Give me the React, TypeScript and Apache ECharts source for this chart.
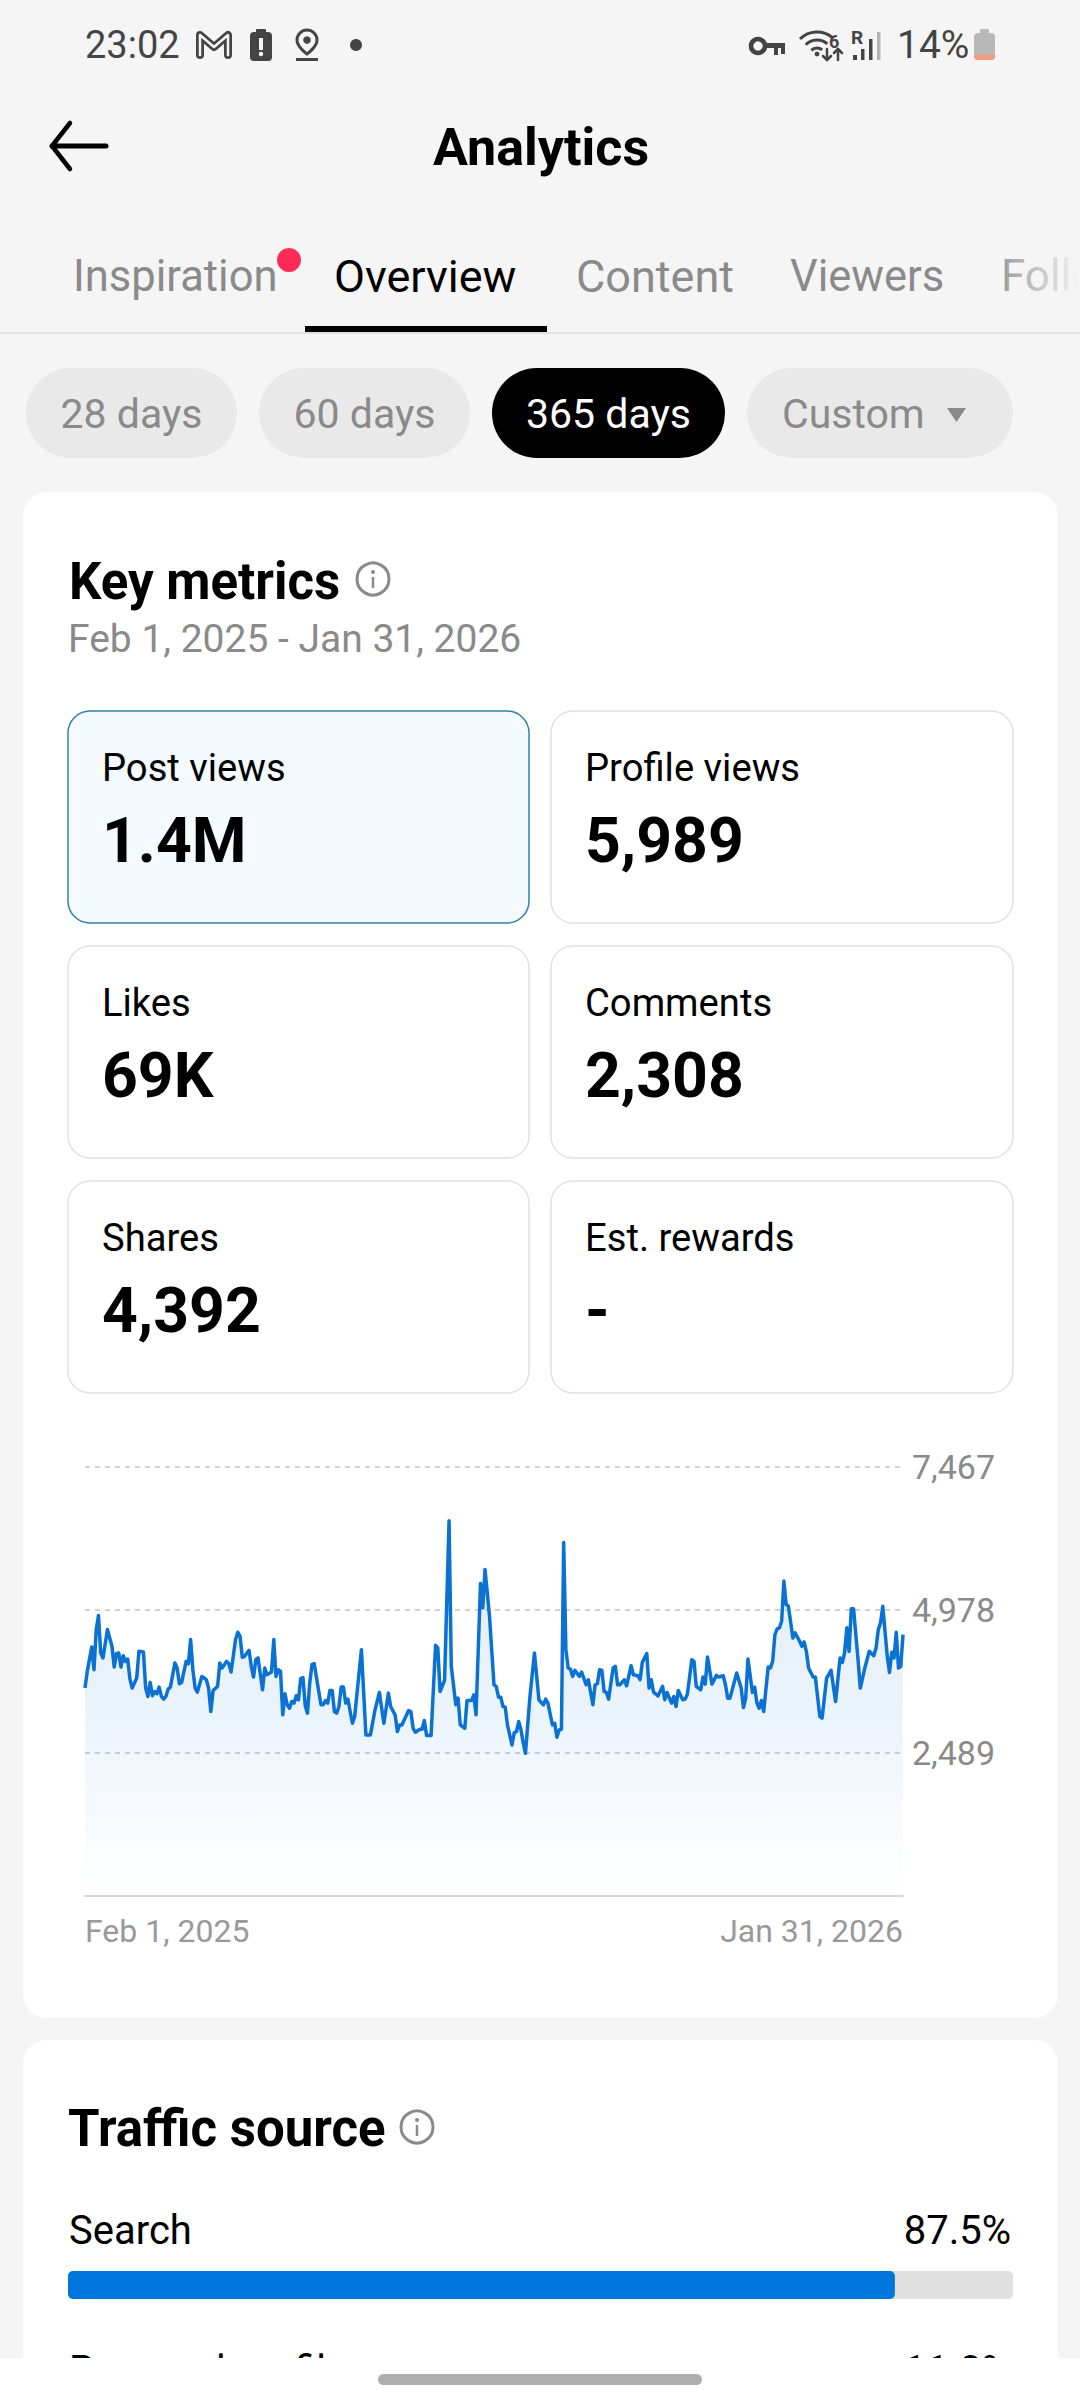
import React, { useEffect, useRef } from "react";
import * as echarts from "echarts";

const FONT = "Roboto";

const tabs = ["Inspiration", "Overview", "Content", "Viewers", "Follo"];
const ranges = ["28 days", "60 days", "365 days", "Custom"];
const metricLabels = ["Post views", "Profile views", "Likes", "Comments", "Shares", "Est. rewards"];
const metricValues = ["1.4M", "5,989", "69K", "2,308", "4,392", "-"];
const xTickLabels = ["Feb 1, 2025", "Jan 31, 2026"];
const yTicks = [2489, 4978, 7467];
const trafficNames = ["Search", "Personal profile"];
const trafficValues = [87.5, 11.0];

const days = [
  0,1,3,4,5,6,7,8,10,11,12,13,14,15,16,17,18,19,20,21,23,24,26,27,28,29,30,31,32,33,34,35,36,37,38,40,41,42,43,45,46,47,48,49,50,52,54,55,56,57,59,60,61,63,64,65,67,68,69,70,71,73,74,75,76,77,79,80,81,83,84,85,86,87,88,89,90,91,92,93,94,95,96,97,98,99,100,101,102,105,106,107,108,109,110,111,112,113,114,115,116,117,118,119,120,123,125,127,129,131,133,135,136,138,139,140,141,144,145,146,147,149,150,151,152,154,156,157,158,160,162,163,165,166,167,169,170,172,173,174,176,177,178,180,182,183,184,185,186,187,188,190,191,192,193,194,195,196,198,200,202,
  204,205,206,208,209,210,211,212,213,214,215,216,217,218,220,221,223,224,226,227,228,229,230,231,232,233,235,236,237,238,240,241,243,244,246,247,248,250,251,252,253,255,257,258,259,261,262,263,264,266,267,268,269,270,271,272,274,275,276,277,279,281,282,284,285,286,287,290,292,293,294,295,297,298,299,300,301,302,304,305,306,307,308,309,310,311,312,313,315,316,318,319,320,321,322,324,325,327,328,330,332,334,336,337,338,339,340,341,342,344,345,347,349,351,352,353,354,355,357,358,359,360,361,362,363,364,
];
const views = [
  3619,3910,4335,3939,4637,4882,4230,4143,4637,4492,4346,3985,4218,4230,3985,4183,4084,4125,3776,3619,3793,4259,4247,3619,3473,3718,3485,3560,3520,3636,3473,3426,3473,3601,3636,4055,3968,3694,3718,4084,4044,4463,3939,3619,3549,3822,3764,3619,3211,3578,3648,4055,3968,4084,4044,3898,4463,4591,4521,4154,4172,4276,3997,3811,4113,4143,3589,3968,3851,3898,4463,3822,3939,3910,3153,3520,3328,3269,3386,3357,3485,3415,3787,3799,3310,3182,3706,4026,4044,3328,3328,3403,3357,3578,3578,3211,3182,3298,3636,3636,3357,3426,3211,3007,3124,4288,2804,2804,3229,3543,3007,3531,3298,3153,2862,2978,2978,3229,3211,2920,2850,2903,2903,3054,2792,2792,4364,4317,3560,3753,6530,3997,3328,3444,2978,2920,3403,3403,3502,3153,5441,5016,5685,4870,3677,3648,3461,3461,3298,3287,2978,2629,2844,2862,3036,2891,2670,2483,3473,4230,3415,
  3328,3426,3357,2978,3007,2763,2891,2903,6151,4288,3968,3950,3822,3927,3822,3898,3677,3764,3328,3677,3694,3939,3927,3560,3543,3426,3968,3997,3677,3677,3764,3659,4009,3851,3834,3764,4067,4218,3619,3764,3549,3485,3648,3415,3543,3357,3473,3298,3578,3415,3426,3502,3800,4113,4084,3648,3589,3811,3688,4160,3688,3840,3811,3834,3677,3444,3444,3881,3619,3281,3444,4125,3543,3636,3357,3269,3403,3211,3985,3968,4084,4550,4649,4667,4783,5482,5074,5045,4492,4579,4434,4346,4422,4259,3968,3811,3811,3124,3095,3793,3927,3386,4143,4067,4230,4667,4259,5000,5000,4113,3619,3968,4259,4183,4317,4637,4754,5045,4172,3892,4242,4143,4591,3968,3997,4550,
];

const GRAY = "#8A8A8A";
const DARK = "#444444";

function text(s: string, x: number, base: number, size: number, fill: string, weight: any = 400, align = "left") {
  return {
    type: "text",
    x,
    y: base - size * 0.33,
    style: { text: s, fill, font: `${weight} ${size}px ${FONT}`, align, verticalAlign: "middle" },
  };
}
function rect(x: number, y: number, w: number, h: number, fill: string, r: any = 0, extra: any = {}) {
  return { type: "rect", shape: { x, y, width: w, height: h, r }, style: { fill, ...extra } };
}
function poly(points: number[][], stroke: string, lineWidth: number) {
  return { type: "polyline", shape: { points }, style: { stroke, lineWidth, fill: "none", lineJoin: "round", lineCap: "round" } };
}
function infoIcon(cx: number, cy: number) {
  return [
    { type: "circle", shape: { cx, cy, r: 16 }, style: { fill: "none", stroke: GRAY, lineWidth: 3 } },
    rect(cx - 1.25, cy - 2, 2.5, 11, GRAY),
    { type: "circle", shape: { cx, cy: cy - 7, r: 2 }, style: { fill: GRAY } },
  ];
}

function buildGraphics() {
  const g: any[] = [];
  g.push(rect(0, 0, 1080, 2400, "#F5F5F5"));

  // status bar
  g.push(text("23:02", 85, 58, 38, DARK));
  g.push(poly([[200, 55], [200, 35], [214, 47], [228, 35], [228, 55]], DARK, 8));
  g.push(poly([[200, 55], [200, 35], [214, 47], [228, 35], [228, 55]], "#F5F5F5", 2.5));
  g.push(rect(250, 32, 22, 29, DARK, 4), rect(256, 29, 10, 5, DARK, 1), rect(259, 38, 4, 12, "#F5F5F5"));
  g.push({ type: "circle", shape: { cx: 261, cy: 54, r: 2.2 }, style: { fill: "#F5F5F5" } });
  g.push({ type: "pinIcon", x: 297, y: 30, style: { fill: "none", stroke: DARK, lineWidth: 3 } });
  g.push({ type: "circle", shape: { cx: 307, cy: 40, r: 3.8 }, style: { fill: DARK } });
  g.push(rect(296, 58, 22, 3, DARK));
  g.push({ type: "circle", shape: { cx: 356, cy: 45, r: 6 }, style: { fill: DARK } });

  g.push({ type: "circle", shape: { cx: 758, cy: 46, r: 7 }, style: { fill: "none", stroke: DARK, lineWidth: 4.5 } });
  g.push(rect(765, 43, 20, 5, DARK), rect(774, 46, 4, 9, DARK), rect(781, 46, 4, 8, DARK));
  [24, 16, 8].forEach((r) =>
    g.push({
      type: "arc",
      shape: { cx: 817, cy: 56, r, startAngle: (-135 * Math.PI) / 180, endAngle: (-50 * Math.PI) / 180 },
      style: { stroke: DARK, lineWidth: 3, fill: "none" },
    })
  );
  g.push({ type: "circle", shape: { cx: 817, cy: 54, r: 2.4 }, style: { fill: DARK } });
  g.push(text("6", 829, 47, 18, DARK, 700));
  g.push(poly([[827, 49], [827, 60]], DARK, 2.5), poly([[823, 56], [827, 60], [831, 56]], DARK, 2.5));
  g.push(poly([[838, 60], [838, 49]], DARK, 2.5), poly([[834, 53], [838, 49], [842, 53]], DARK, 2.5));
  g.push(text("R", 851, 44, 19, DARK, 700));
  g.push(rect(853, 55, 4, 5, DARK), rect(861, 49, 3.5, 11, DARK), rect(869, 39, 3.5, 21, DARK), rect(877, 32, 3.5, 28, "#B4B4B4"));
  g.push(text("14%", 897, 58, 39, DARK));
  g.push(rect(974, 33, 21, 27, "#B8B8B8", 4), rect(980, 29, 9, 5, "#B8B8B8", 1), rect(974, 55, 21, 5, "#F59A7C", [0, 0, 4, 4]));

  // header
  g.push(poly([[70, 123], [52, 146], [70, 169]], "#000", 4.5), poly([[52, 146], [106, 146]], "#000", 5));
  g.push(text("Analytics", 541, 165, 52, "#000", 700, "center"));

  // tabs
  const tabX = [73, 334, 576, 790, 1001];
  const tabSize = [43.5, 45, 45, 43.5, 44];
  tabs.forEach((t, i) => g.push(text(t, tabX[i], 291, tabSize[i], i === 1 ? "#000" : GRAY)));
  g.push({
    type: "rect",
    shape: { x: 1000, y: 250, width: 80, height: 60 },
    style: {
      fill: new echarts.graphic.LinearGradient(0, 0, 1, 0, [
        { offset: 0, color: "rgba(245,245,245,0.15)" },
        { offset: 1, color: "rgba(245,245,245,1)" },
      ]),
    },
  });
  g.push({ type: "circle", shape: { cx: 289, cy: 260, r: 12 }, style: { fill: "#FE2C55" } });
  g.push(rect(0, 332, 1080, 2, "#E2E2E2"), rect(305, 326, 242, 6, "#000"));

  // range pills
  const pillX = [26, 259, 492, 747];
  const pillW = [211, 211, 233, 266];
  ranges.forEach((t, i) => {
    const active = i === 2;
    g.push(rect(pillX[i], 368, pillW[i], 90, active ? "#000" : "#E9E9E9", 45));
    if (i === 3) g.push(text(t, 782, 428, 41, GRAY));
    else g.push(text(t, pillX[i] + pillW[i] / 2, 428, 41, active ? "#FFF" : GRAY, 400, "center"));
  });
  g.push({ type: "polygon", shape: { points: [[947, 408], [966, 408], [956.5, 422]] }, style: { fill: GRAY } });

  // key metrics card
  g.push(rect(23, 492, 1035, 1526, "#FFF", 24));
  g.push(text("Key metrics", 69, 598, 51, "#000", 700));
  g.push(...infoIcon(373, 579));
  g.push(text("Feb 1, 2025 - Jan 31, 2026", 68, 652, 39, GRAY));
  const boxX = [68, 551];
  const boxY = [711, 946, 1181];
  metricLabels.forEach((label, i) => {
    const col = i % 2;
    const row = Math.floor(i / 2);
    const sel = i === 0;
    g.push({
      type: "rect",
      shape: { x: boxX[col], y: boxY[row], width: col ? 462 : 461, height: 212, r: 22 },
      style: { fill: sel ? "#F4FAFE" : "#FFF", stroke: sel ? "#2F82AB" : "#E2E2E2", lineWidth: 1.5 },
    });
    g.push(text(label, boxX[col] + 34, boxY[row] + 70, 38.2, "#000"));
    g.push(text(metricValues[i], boxX[col] + 34, boxY[row] + 150, 62.5, "#000", 700));
  });

  // traffic source card
  g.push(rect(23, 2040, 1035, 400, "#FFF", 24));
  g.push(text("Traffic source", 68, 2145, 51, "#000", 700));
  g.push(...infoIcon(417, 2127));
  trafficNames.forEach((n, i) => {
    const base = i === 0 ? 2244 : 2384;
    g.push(text(n, 69, base, 40, "#000"));
    g.push(text(trafficValues[i].toFixed(1) + "%", 1011, base, 40, "#000", 400, "right"));
  });

  // bottom nav
  g.push({ ...rect(0, 2358, 1080, 42, "#FFF"), z: 100 });
  g.push({ ...rect(378, 2374, 324, 11, "#ADADAD", 5.5), z: 101 });
  return g;
}

export default function App() {
  const ref = useRef<HTMLDivElement>(null);
  useEffect(() => {
    document.body.style.margin = "0";
    echarts.graphic.registerShape(
      "pinIcon",
      echarts.graphic.extendPath("M10 0C4.5 0 0 4.5 0 10c0 7 10 14 10 14s10-7 10-14C20 4.5 15.5 0 10 0z", {}) as any
    );
    const chart = echarts.init(ref.current!, undefined, { renderer: "svg" });
    chart.setOption({
      animation: false,
      backgroundColor: "#F5F5F5",
      textStyle: { fontFamily: FONT },
      graphic: { elements: buildGraphics() },
      grid: [
        { left: 85, top: 1467, width: 818, height: 429 },
        { left: 68, top: 2271, width: 945, height: 28 },
      ],
      xAxis: [
        {
          type: "value",
          gridIndex: 0,
          min: 0,
          max: 364,
          splitLine: { show: false },
          axisTick: { show: false },
          axisLine: { show: true, onZero: false, lineStyle: { color: "#D6D6D6", width: 2 } },
          axisLabel: {
            customValues: [0, 364],
            formatter: (v: number) => (v === 0 ? xTickLabels[0] : xTickLabels[1]),
            alignMinLabel: "left",
            alignMaxLabel: "right",
            color: "#999999",
            fontSize: 32,
            fontFamily: FONT,
            margin: 19,
          },
        },
        { type: "value", gridIndex: 1, min: 0, max: 100, show: false },
      ],
      yAxis: [
        {
          type: "value",
          gridIndex: 0,
          position: "right",
          min: 0,
          max: yTicks[2],
          interval: yTicks[0],
          axisLine: { show: false },
          axisTick: { show: false },
          splitLine: { show: true, showMinLine: false, lineStyle: { color: "#C4C4C4", width: 1.5, type: [5, 5] } },
          axisLabel: {
            formatter: (v: number) => (v === 0 ? "" : v.toLocaleString("en-US")),
            align: "right",
            margin: 92,
            color: "#8A8A8A",
            fontSize: 34,
            fontFamily: FONT,
          },
        },
        { type: "category", gridIndex: 1, data: [trafficNames[0]], show: false },
      ],
      series: [
        {
          type: "line",
          xAxisIndex: 0,
          yAxisIndex: 0,
          data: days.map((d, i) => [d, views[i]]),
          showSymbol: false,
          symbol: "none",
          lineStyle: { color: "#0B72D4", width: 3.5, join: "round" },
          areaStyle: {
            color: new echarts.graphic.LinearGradient(0, 0, 0, 1, [
              { offset: 0, color: "rgba(11,114,212,0.17)" },
              { offset: 0.53, color: "rgba(11,114,212,0.115)" },
              { offset: 0.66, color: "rgba(11,114,212,0.08)" },
              { offset: 1, color: "rgba(11,114,212,0.0)" },
            ]),
          },
        },
        {
          type: "bar",
          xAxisIndex: 1,
          yAxisIndex: 1,
          data: [trafficValues[0]],
          barWidth: 28,
          itemStyle: { color: "#0075DB", borderRadius: 5 },
          showBackground: true,
          backgroundStyle: { color: "#E0E0E0", borderRadius: 5 },
        },
      ],
    });
    return () => chart.dispose();
  }, []);
  return <div ref={ref} style={{ position: "absolute", left: 0, top: 0, width: 1080, height: 2400 }} />;
}
